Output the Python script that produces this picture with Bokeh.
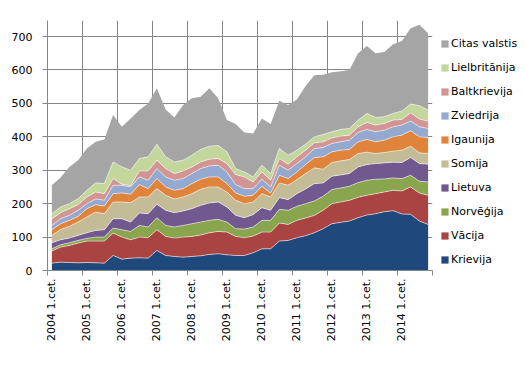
from bokeh.plotting import figure
from bokeh.models import FixedTicker, Legend, LegendItem, Range1d, ColumnDataSource
from bokeh.layouts import row
from bokeh.embed import file_html
from bokeh.resources import INLINE
import numpy as np

years = list(range(2004, 2015))
quarters = [f"{y} {q}.cet." for y in years for q in range(1, 5)]
tick_labels = [f"{y} 1.cet." for y in years]

krievija = [22, 25, 24, 23, 24, 23, 22, 45, 34, 37, 38, 37, 60, 45, 42, 40, 42, 44, 48, 50, 47, 45, 45, 53,
            65, 65, 88, 90, 98, 104, 113, 125, 140, 144, 148, 158, 166, 170, 176, 179, 169, 168, 148, 138]
vacija = [36, 45, 51, 59, 64, 65, 66, 67, 66, 55, 62, 61, 62, 57, 55, 60, 60, 62, 65, 67, 68, 57, 53, 50,
          50, 50, 54, 48, 52, 53, 52, 55, 60, 61, 62, 61, 59, 60, 59, 61, 69, 82, 84, 87]
norvegija = [7, 7, 8, 8, 8, 12, 12, 15, 22, 25, 35, 32, 36, 33, 33, 35, 38, 39, 37, 36, 30, 23, 26, 27,
             35, 35, 41, 42, 42, 43, 43, 42, 42, 42, 42, 44, 45, 43, 39, 37, 37, 35, 35, 40]
lietuva = [18, 15, 14, 15, 17, 20, 22, 28, 33, 28, 37, 40, 40, 45, 43, 43, 45, 50, 52, 52, 45, 40, 34, 37,
           38, 30, 35, 32, 38, 44, 52, 40, 40, 39, 38, 47, 47, 47, 48, 47, 48, 53, 53, 53]
somija = [22, 31, 35, 40, 47, 55, 48, 50, 50, 58, 48, 50, 47, 45, 41, 42, 45, 48, 48, 45, 45, 45, 42, 38,
          42, 40, 44, 43, 42, 46, 47, 41, 41, 42, 42, 40, 37, 30, 31, 33, 37, 34, 32, 32]
igaunija = [17, 17, 18, 17, 25, 22, 23, 25, 27, 25, 37, 25, 30, 25, 26, 25, 30, 30, 30, 30, 25, 22, 22, 20,
            22, 12, 23, 20, 23, 27, 31, 37, 32, 32, 30, 35, 38, 35, 37, 43, 45, 46, 48, 48]
zviedrija = [13, 15, 15, 18, 15, 17, 17, 25, 23, 22, 23, 25, 30, 30, 30, 30, 30, 32, 33, 35, 35, 25, 23, 20,
             21, 18, 30, 25, 25, 23, 27, 28, 25, 25, 28, 28, 30, 30, 30, 30, 30, 29, 30, 27]
baltkrievija = [20, 18, 20, 17, 20, 21, 20, 20, 3, 4, 18, 28, 25, 25, 20, 23, 20, 20, 20, 20, 25, 30, 35, 20,
                22, 20, 20, 18, 20, 20, 17, 17, 17, 17, 15, 17, 21, 20, 20, 20, 17, 25, 23, 22]
lielbritanija = [15, 17, 15, 18, 20, 27, 30, 50, 52, 46, 37, 42, 48, 35, 35, 32, 35, 37, 39, 39, 35, 18, 15, 15,
                 20, 20, 30, 27, 20, 18, 18, 22, 18, 20, 20, 20, 27, 23, 20, 20, 25, 26, 40, 33]
citas = [85, 88, 110, 115, 125, 123, 132, 140, 120, 155, 145, 160, 167, 142, 133, 165, 170, 158, 173, 141, 95, 133, 118, 130,
         140, 148, 143, 150, 152, 174, 184, 179, 178, 174, 175, 200, 202, 192, 194, 207, 210, 227, 242, 230]

series_names = ["Krievija", "Vācija", "Norvēģija", "Lietuva", "Somija", "Igaunija",
                "Zviedrija", "Baltkrievija", "Lielbritānija", "Citas valstis"]
series_values = [krievija, vacija, norvegija, lietuva, somija, igaunija,
                 zviedrija, baltkrievija, lielbritanija, citas]
colors = ["#1F497D", "#A94442", "#89A54E", "#71588F", "#C4BC96", "#E0843C",
          "#93A9CF", "#D39594", "#C3D69B", "#A5A5A5"]

n = len(quarters)
xs = [i + 0.5 for i in range(n)]
data = {"x": xs}
for name, vals in zip(series_names, series_values):
    data[name] = vals
source = ColumnDataSource(data)

FONT = "DejaVu Sans"
GRID = "#868686"

p = figure(width=437, height=367, output_backend="svg", toolbar_location=None,
           x_range=Range1d(0, n), y_range=Range1d(0, 748),
           min_border_left=47, min_border_right=5, min_border_top=20, min_border_bottom=97)
p.outline_line_color = None
p.background_fill_color = "white"

renderers = p.varea_stack(stackers=series_names, x="x", color=colors, source=source)

cum = np.zeros(n)
for vals in series_values[:-1]:
    cum = cum + np.array(vals)
    p.line(xs, cum, line_color="white", line_alpha=0.55, line_width=1)

# grids
p.xgrid.ticker = FixedTicker(ticks=list(range(0, n + 1, 4)))
p.ygrid.ticker = FixedTicker(ticks=list(range(0, 701, 100)))
for g in (p.xgrid, p.ygrid):
    g.grid_line_color = GRID
    g.grid_line_width = 1

# y axis
p.yaxis.ticker = FixedTicker(ticks=list(range(0, 701, 100)))
p.yaxis.axis_line_color = GRID
p.yaxis.major_tick_line_color = GRID
p.yaxis.major_tick_out = 5
p.yaxis.major_tick_in = 0
p.yaxis.minor_tick_line_color = None
p.yaxis.major_label_standoff = 10
p.yaxis.major_label_text_font = FONT
p.yaxis.major_label_text_font_size = "11px"
p.yaxis.major_label_text_color = "black"

# x axis
label_ticks = [4 * k + 0.5 for k in range(len(tick_labels))]
p.xaxis.ticker = FixedTicker(ticks=label_ticks, minor_ticks=list(range(0, n + 1, 4)))
p.xaxis.major_label_overrides = {t: lab for t, lab in zip(label_ticks, tick_labels)}
p.xaxis.major_label_orientation = np.pi / 2
p.xaxis.axis_line_color = GRID
p.xaxis.major_tick_line_color = None
p.xaxis.major_tick_out = 5
p.xaxis.major_tick_in = 0
p.xaxis.minor_tick_line_color = GRID
p.xaxis.minor_tick_out = 5
p.xaxis.minor_tick_in = 0
p.xaxis.major_label_standoff = 3
p.xaxis.major_label_text_font = FONT
p.xaxis.major_label_text_font_size = "11px"
p.xaxis.major_label_text_color = "black"

# legend in a separate small figure to the right (its areas lie outside its view)
lf = figure(width=88, height=367, output_backend="svg", toolbar_location=None,
            x_range=Range1d(1000, 1001), y_range=Range1d(0, 748),
            min_border=0, min_border_left=0, min_border_right=0, min_border_top=0, min_border_bottom=0)
lf.outline_line_color = None
lf.axis.visible = False
lf.grid.visible = False
legend_renderers = lf.varea_stack(stackers=series_names, x="x", color=colors, source=source)

items = [LegendItem(label=name, renderers=[r]) for name, r in zip(series_names, legend_renderers)][::-1]
legend = Legend(items=items, location=(3, 3), orientation="vertical",
                glyph_width=9, glyph_height=9, label_height=16, spacing=8,
                label_standoff=2, padding=0, margin=0,
                label_text_font=FONT, label_text_font_size="11px", label_text_color="black",
                border_line_color=None, background_fill_alpha=0)
lf.add_layout(legend)

layout = row(p, lf)
open("out.html", "w").write(file_html(layout, INLINE))
